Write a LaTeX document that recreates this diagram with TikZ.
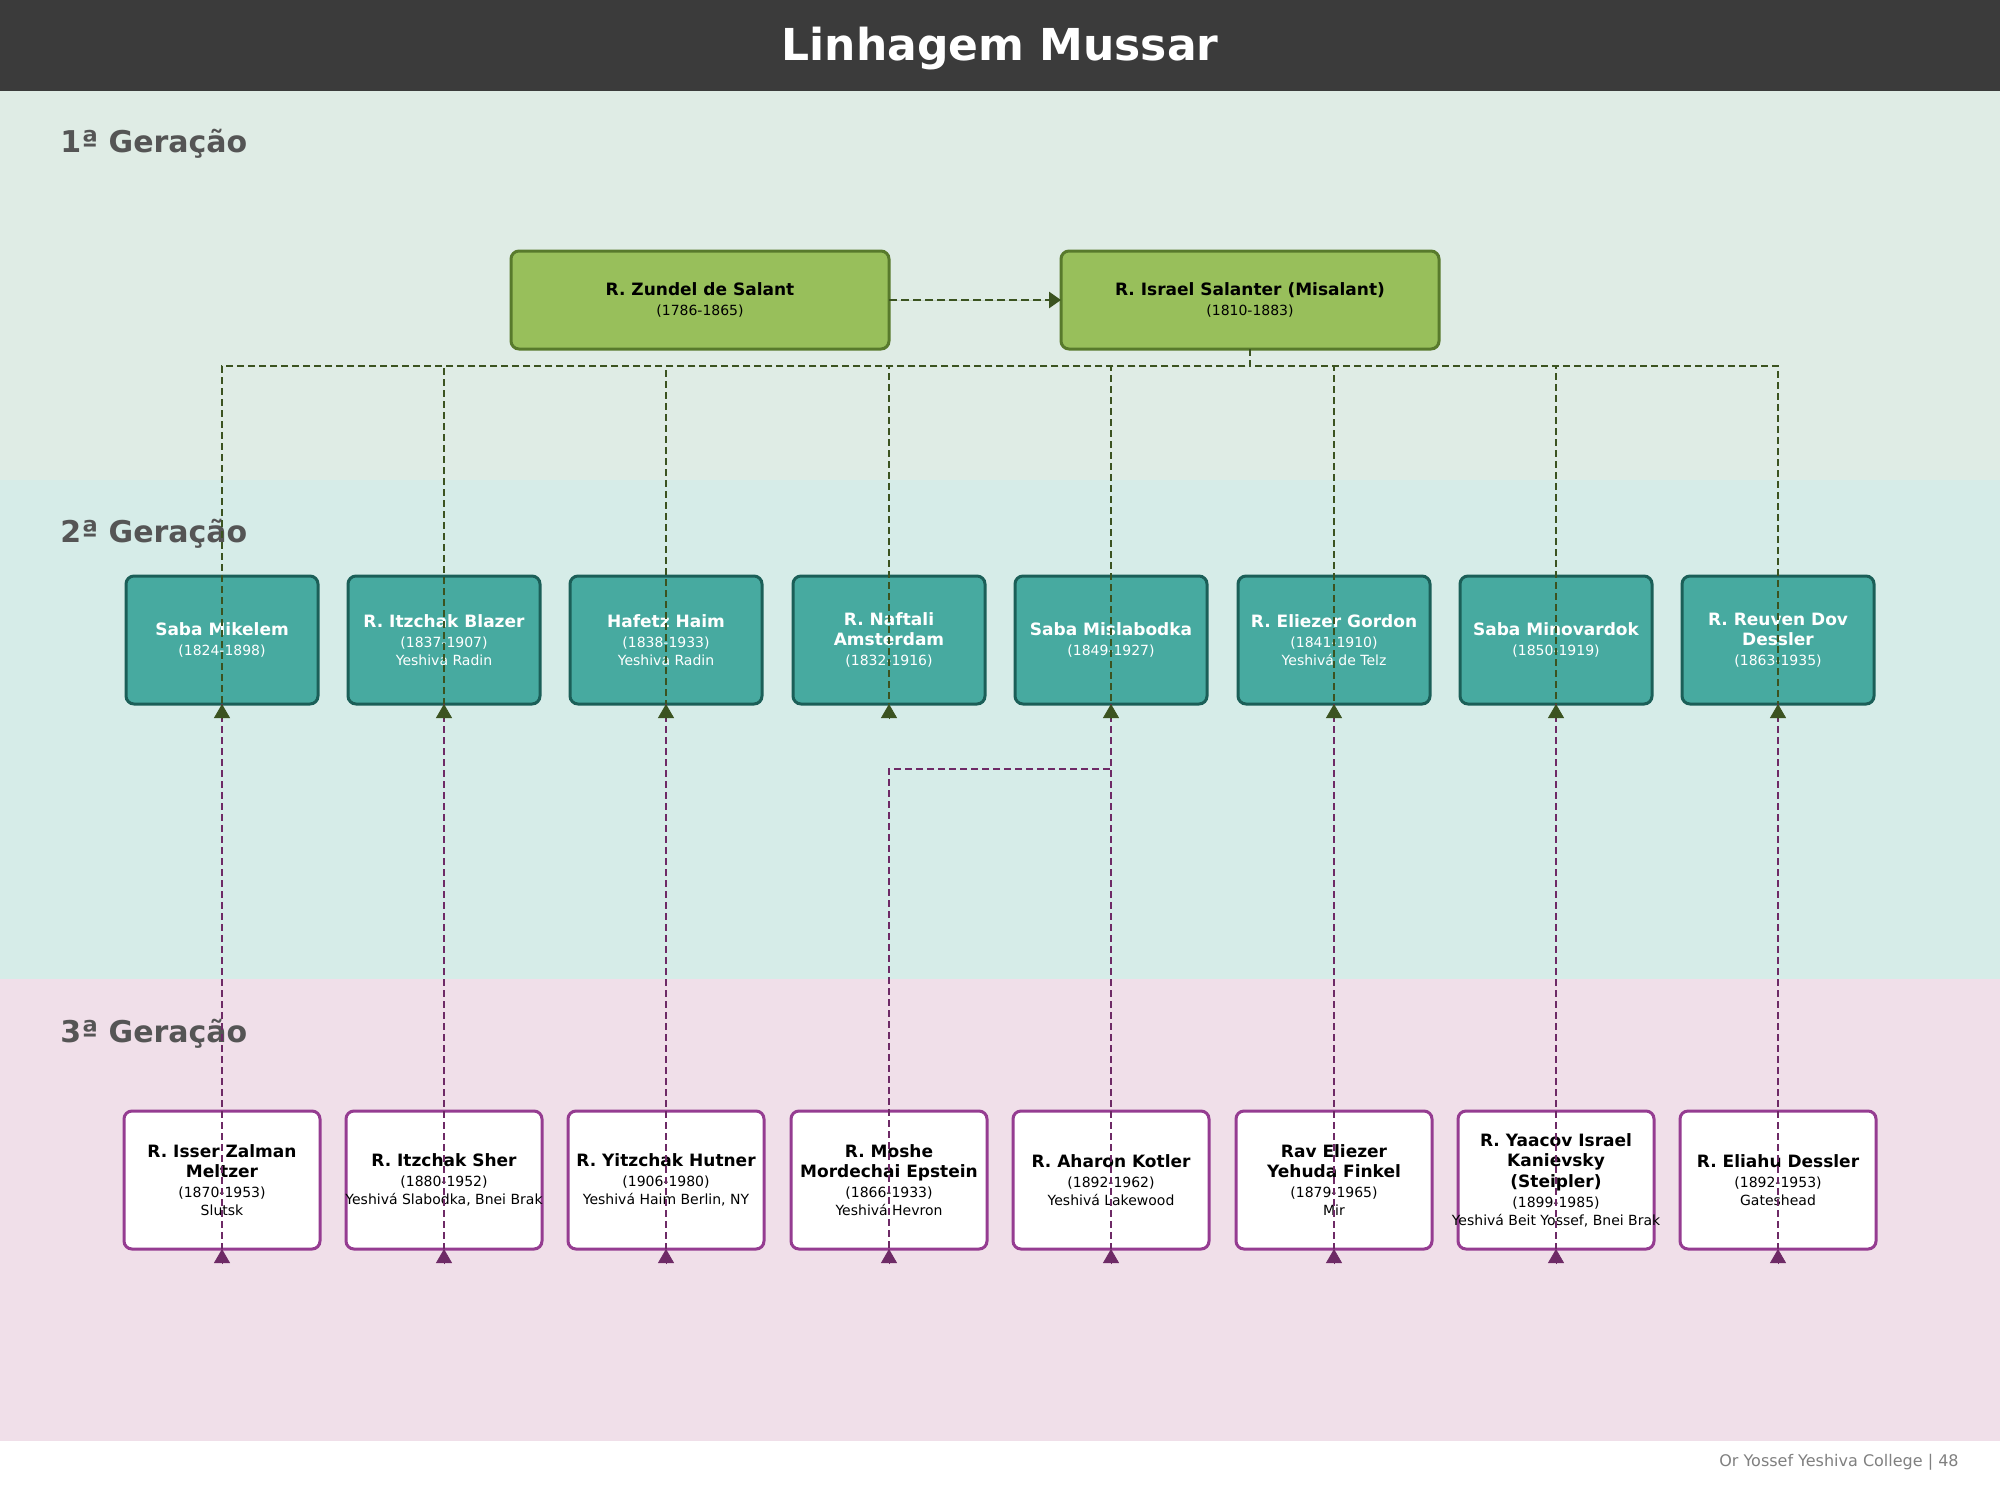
\documentclass[tikz,border=0pt]{standalone}
\usepackage{fontspec}
\setmainfont{DejaVu Sans}
\usetikzlibrary{arrows.meta,calc}
\definecolor{titlebg}{HTML}{3B3B3B}
\definecolor{bandA}{HTML}{DFECE5}
\definecolor{bandB}{HTML}{D6ECE8}
\definecolor{bandC}{HTML}{F0DFE9}
\definecolor{gAfill}{HTML}{98BF5B}
\definecolor{gAline}{HTML}{587A2C}
\definecolor{gBfill}{HTML}{47AAA0}
\definecolor{gBline}{HTML}{1B5F58}
\definecolor{gCline}{HTML}{953C91}
\definecolor{edgeG}{HTML}{3B5320}
\definecolor{edgeP}{HTML}{6E2A66}
\definecolor{labelgray}{HTML}{555555}
\definecolor{footgray}{HTML}{808080}
\newcommand\nm[1]{{\fontsize{8.5}{9}\selectfont\bfseries #1}}
\newcommand\wide[1]{\makebox[80pt][c]{#1}}
\tikzset{
  boxbase/.style={rounded corners=4pt, line width=1.5pt, inner sep=0pt, outer sep=0pt,
    align=center, font=\fontsize{7}{9}\selectfont},
  genA/.style={boxbase, draw=gAline, fill=gAfill, text=black, minimum width=189pt, minimum height=49pt},
  genB/.style={boxbase, draw=gBline, fill=gBfill, text=white, minimum width=96pt, minimum height=64pt},
  genC/.style={boxbase, draw=gCline, fill=white, text=black, minimum width=98pt, minimum height=69pt},
  genlabel/.style={anchor=base west, inner sep=0pt, text=labelgray, font=\fontsize{15}{18}\selectfont\bfseries},
  gedge/.style={draw=edgeG, line width=1pt, dash pattern=on 3.5pt off 2pt},
  pedge/.style={draw=edgeP, line width=1pt, dash pattern=on 3.5pt off 2pt},
  gtip/.style={draw=edgeG, fill=edgeG, line width=0.4pt, -{Triangle[length=7pt,width=8pt]}},
  ptip/.style={draw=edgeP, fill=edgeP, line width=0.4pt, -{Triangle[length=7pt,width=8pt]}},
}
\begin{document}
\begin{tikzpicture}[x=0.5pt,y=-0.5pt]
\useasboundingbox (0,0) rectangle (2000,1500);
\fill[white] (0,0) rectangle (2000,1500);
% bands
\fill[titlebg] (0,0) rectangle (2000,91);
\fill[bandA] (0,91) rectangle (2000,480);
\fill[bandB] (0,480) rectangle (2000,979);
\fill[bandC] (0,979) rectangle (2000,1441);
\node[anchor=base, text=white, font=\fontsize{22}{26}\selectfont\bfseries, inner sep=0pt] (title) at (1000,60) {Linhagem Mussar};
\node[genlabel] (lab1) at (60,152) {1ª Geração};
\node[genlabel] (lab2) at (60,542) {2ª Geração};
\node[genlabel] (lab3) at (60,1042) {3ª Geração};
\node[anchor=base east, inner sep=0pt, text=footgray, font=\fontsize{8}{10}\selectfont] (foot) at (1959,1466) {Or Yossef Yeshiva College | 48};
% generation 1
\node[genA] (zun) at (700,300) {\nm{R. Zundel de Salant}\\[1pt](1786-1865)};
\node[genA] (isr) at (1250,300) {\nm{R. Israel Salanter (Misalant)}\\[1pt](1810-1883)};
% generation 2
\node[genB] (b1) at (222,640) {\nm{Saba Mikelem}\\[1pt](1824-1898)};
\node[genB] (b2) at (444,640) {\nm{R. Itzchak Blazer}\\[1pt](1837-1907)\\Yeshiva Radin};
\node[genB] (b3) at (666,640) {\nm{Hafetz Haim}\\[1pt](1838-1933)\\Yeshiva Radin};
\node[genB] (b4) at (889,640) {\nm{R. Naftali}\\[1.2pt]\nm{Amsterdam}\\[1pt](1832-1916)};
\node[genB] (b5) at (1111,640) {\nm{Saba Mislabodka}\\[1pt](1849-1927)};
\node[genB] (b6) at (1334,640) {\nm{R. Eliezer Gordon}\\[1pt](1841-1910)\\Yeshivá de Telz};
\node[genB] (b7) at (1556,640) {\nm{Saba Minovardok}\\[1pt](1850-1919)};
\node[genB] (b8) at (1778,640) {\nm{R. Reuven Dov}\\[1.2pt]\nm{Dessler}\\[1pt](1863-1935)};
% generation 3
\node[genC] (c1) at (222,1180) {\nm{R. Isser Zalman}\\[1.2pt]\nm{Meltzer}\\[1pt](1870-1953)\\Slutsk};
\node[genC] (c2) at (444,1180) {\nm{R. Itzchak Sher}\\[1pt](1880-1952)\\\wide{Yeshivá Slabodka, Bnei Brak}};
\node[genC] (c3) at (666,1180) {\nm{R. Yitzchak Hutner}\\[1pt](1906-1980)\\Yeshivá Haim Berlin, NY};
\node[genC] (c4) at (889,1180) {\nm{R. Moshe}\\[1.2pt]\nm{Mordechai Epstein}\\[1pt](1866-1933)\\Yeshivá Hevron};
\node[genC] (c5) at (1111,1180) {\nm{R. Aharon Kotler}\\[1pt](1892-1962)\\Yeshivá Lakewood};
\node[genC] (c6) at (1334,1180) {\nm{Rav Eliezer}\\[1.2pt]\nm{Yehuda Finkel}\\[1pt](1879-1965)\\Mir};
\node[genC] (c7) at (1556,1180) {\nm{R. Yaacov Israel}\\[1.2pt]\nm{Kanievsky}\\[1.2pt]\nm{(Steipler)}\\[1pt](1899-1985)\\\wide{Yeshivá Beit Yossef, Bnei Brak}};
\node[genC] (c8) at (1778,1180) {\nm{R. Eliahu Dessler}\\[1pt](1892-1953)\\Gateshead};
% Zundel -> Israel
\draw[draw=edgeG, line width=1.4pt, dash pattern=on 4pt off 2pt, -{Triangle[length=6pt,width=8pt]}, fill=edgeG] (zun.east) -- (isr.west);
% generation 2 -> generation 3
\foreach \p/\c in {b1/c1,b2/c2,b3/c3,b5/c5,b6/c6,b7/c7,b8/c8}{
  \draw[pedge] (\p.south) -- (\c.south);
}
\draw[pedge] (b5.south) -- ++(0,65) -| (c4.south);
\foreach \c in {c1,c2,c3,c4,c5,c6,c7,c8}{
  \draw[ptip] ($(\c.south)+(0,15)$) -- (\c.south);
}
% generation 1 -> generation 2
\coordinate (bus) at (1250,366);
\foreach \c in {b1,b2,b3,b4,b5,b6,b7,b8}{
  \draw[gedge] (isr.south) |- (\c.south |- bus) -- (\c.south);
  \draw[gtip] ($(\c.south)+(0,15)$) -- (\c.south);
}
\end{tikzpicture}
\end{document}
